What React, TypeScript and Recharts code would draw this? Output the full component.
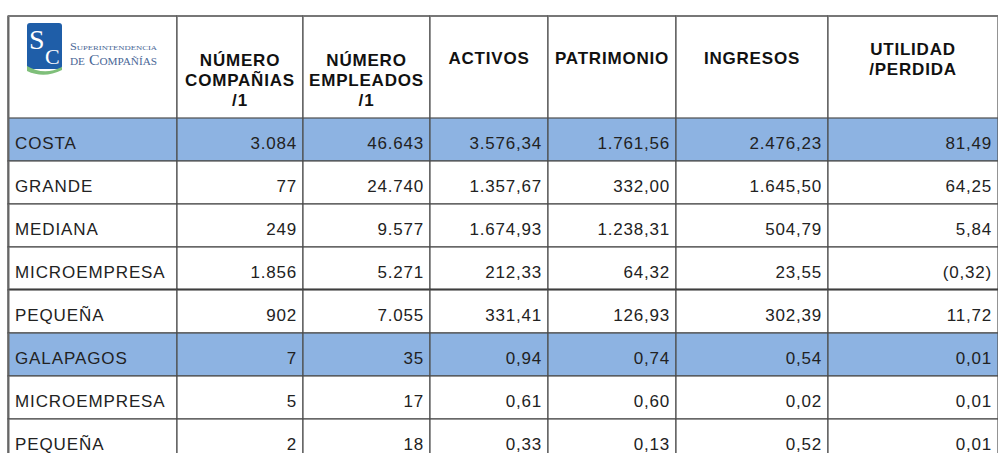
import React from "react";
import { BarChart, Bar, XAxis, YAxis } from "recharts";

// table values
const ROW_NAMES = ["COSTA", "GRANDE", "MEDIANA", "MICROEMPRESA", "PEQUEÑA", "GALAPAGOS", "MICROEMPRESA", "PEQUEÑA"];
const REGION_ROWS = ["COSTA", "GALAPAGOS"];
const COMPANIAS = [3084, 77, 249, 1856, 902, 7, 5, 2];
const EMPLEADOS = [46643, 24740, 9577, 5271, 7055, 35, 17, 18];
const ACTIVOS = [3576.34, 1357.67, 1674.93, 212.33, 331.41, 0.94, 0.61, 0.33];
const PATRIMONIO = [1761.56, 332.0, 1238.31, 64.32, 126.93, 0.74, 0.6, 0.13];
const INGRESOS = [2476.23, 1645.5, 504.79, 23.55, 302.39, 0.54, 0.02, 0.52];
const UTILIDAD = [81.49, 64.25, 5.84, -0.32, 11.72, 0.01, 0.01, 0.01];

const HEADERS = [
  [],
  ["NÚMERO", "COMPAÑIAS", "/1"],
  ["NÚMERO", "EMPLEADOS", "/1"],
  ["ACTIVOS"],
  ["PATRIMONIO"],
  ["INGRESOS"],
  ["UTILIDAD", "/PERDIDA"],
];

// layout
const COL_WIDTHS = [169, 126, 127, 118, 128, 152, 170];
const COL_DECIMALS = [0, 0, 0, 2, 2, 2, 2];
const TOTAL = COL_WIDTHS.reduce((a, b) => a + b, 0);
const BLUE = "#8db3e2";
const LINE = "#4d4d4d";
const FONT = '"Liberation Sans", Arial, sans-serif';

const rows = ROW_NAMES.map((name, i) => ({
  key: `r${i}`,
  name,
  region: REGION_ROWS.includes(name),
  values: [name, COMPANIAS[i], EMPLEADOS[i], ACTIVOS[i], PATRIMONIO[i], INGRESOS[i], UTILIDAD[i]],
}));

function fmt(n: number, dec: number) {
  const [int, frac] = Math.abs(n).toFixed(dec).split(".");
  const grouped = int.replace(/\B(?=(\d{3})+(?!\d))/g, ".");
  const s = frac ? `${grouped},${frac}` : grouped;
  return n < 0 ? `(${s})` : s;
}

const bodyCell = (col: number) => (props: any) => {
  const { x, y, width, height, payload, index } = props;
  const v = payload.values[col];
  const text = col === 0 ? v : fmt(v, COL_DECIMALS[col]);
  return (
    <g>
      <rect x={x} y={y} width={width} height={height} fill={payload.region ? BLUE : "#fff"} stroke={LINE} strokeWidth={1.2} />
      {index === 3 && <line x1={x} x2={x + width} y1={y + height - 0.5} y2={y + height - 0.5} stroke="#2a2a2a" strokeWidth={2.2} />}
      {col === 0 && <line x1={x + 0.5} x2={x + 0.5} y1={y} y2={y + height} stroke="#666" strokeWidth={2} />}
      <text
        x={col === 0 ? x + 7 : x + width - 6}
        y={y + 31}
        textAnchor={col === 0 ? "start" : "end"}
        fontFamily={FONT}
        fontSize={17}
        letterSpacing={col === 0 ? 0.9 : 0.8}
        fill="#222"
      >
        {text}
      </text>
    </g>
  );
};

function Logo({ x, y }: { x: number; y: number }) {
  return (
    <g>
      <rect x={x + 19} y={y + 7} width={35} height={46} rx={3} fill="#1f5ea8" />
      <text x={x + 21} y={y + 33} fontFamily='"Liberation Serif", serif' fontSize={28} fill="#fff">S</text>
      <text x={x + 37} y={y + 48} fontFamily='"Liberation Serif", serif' fontSize={22} fill="#fff">C</text>
      <path
        d={`M${x + 19},${y + 50} Q${x + 36},${y + 60} ${x + 54},${y + 51} L${x + 54},${y + 54} Q${x + 36},${y + 63} ${x + 19},${y + 55} Z`}
        fill="#7fbf7a"
      />
      <text
        x={x + 62}
        y={y + 34}
        fontFamily='"Liberation Serif", serif'
        fontSize={10}
        fill="#4a6796"
        style={{ fontVariant: "small-caps" }}
        textLength={87}
        lengthAdjust="spacingAndGlyphs"
      >
        Superintendencia
      </text>
      <text
        x={x + 62}
        y={y + 49}
        fontFamily='"Liberation Serif", serif'
        fontSize={14}
        fill="#4a6796"
        style={{ fontVariant: "small-caps" }}
        textLength={87}
        lengthAdjust="spacingAndGlyphs"
      >
        de Compañías
      </text>
    </g>
  );
}

const headCell = (col: number) => (props: any) => {
  const { x, y, width, height } = props;
  const lines = HEADERS[col];
  const start = lines.length === 3 ? 50 : lines.length === 2 ? 39 : 48;
  return (
    <g>
      <rect x={x} y={y} width={width} height={height} fill="#fff" stroke={LINE} strokeWidth={1.2} />
      {col === 0 && <line x1={x + 0.5} x2={x + 0.5} y1={y} y2={y + height} stroke="#666" strokeWidth={2} />}
      <line x1={x} x2={x + width} y1={y} y2={y} stroke="#777" strokeWidth={2} />
      {col === 0 && <Logo x={x} y={y} />}
      {lines.map((l, i) => (
        <text
          key={i}
          x={x + width / 2}
          y={y + start + i * 20}
          textAnchor="middle"
          fontFamily={FONT}
          fontSize={17}
          fontWeight="bold"
          letterSpacing={0.8}
          fill="#111"
        >
          {l}
        </text>
      ))}
    </g>
  );
};

export default function App() {
  return (
    <div style={{ position: "fixed", left: 0, top: 0, width: 998, height: 453, overflow: "hidden", background: "#fff" }}>
      <div style={{ position: "absolute", left: 0, top: 0 }}>
        <BarChart width={998} height={118} data={[{ key: "h" }]} layout="vertical" margin={{ top: 16, right: 0, bottom: 0, left: 8 }} barCategoryGap={0}>
          <XAxis type="number" domain={[0, TOTAL]} hide />
          <YAxis type="category" dataKey="key" hide />
          {COL_WIDTHS.map((w, i) => (
            <Bar key={i} dataKey={() => w} stackId="t" isAnimationActive={false} shape={headCell(i)} />
          ))}
        </BarChart>
      </div>
      <div style={{ position: "absolute", left: 0, top: 118 }}>
        <BarChart width={998} height={344} data={rows} layout="vertical" margin={{ top: 0, right: 0, bottom: 0, left: 8 }} barCategoryGap={0}>
          <XAxis type="number" domain={[0, TOTAL]} hide />
          <YAxis type="category" dataKey="key" hide />
          {COL_WIDTHS.map((w, i) => (
            <Bar key={i} dataKey={() => w} stackId="t" isAnimationActive={false} shape={bodyCell(i)} />
          ))}
        </BarChart>
      </div>
    </div>
  );
}
